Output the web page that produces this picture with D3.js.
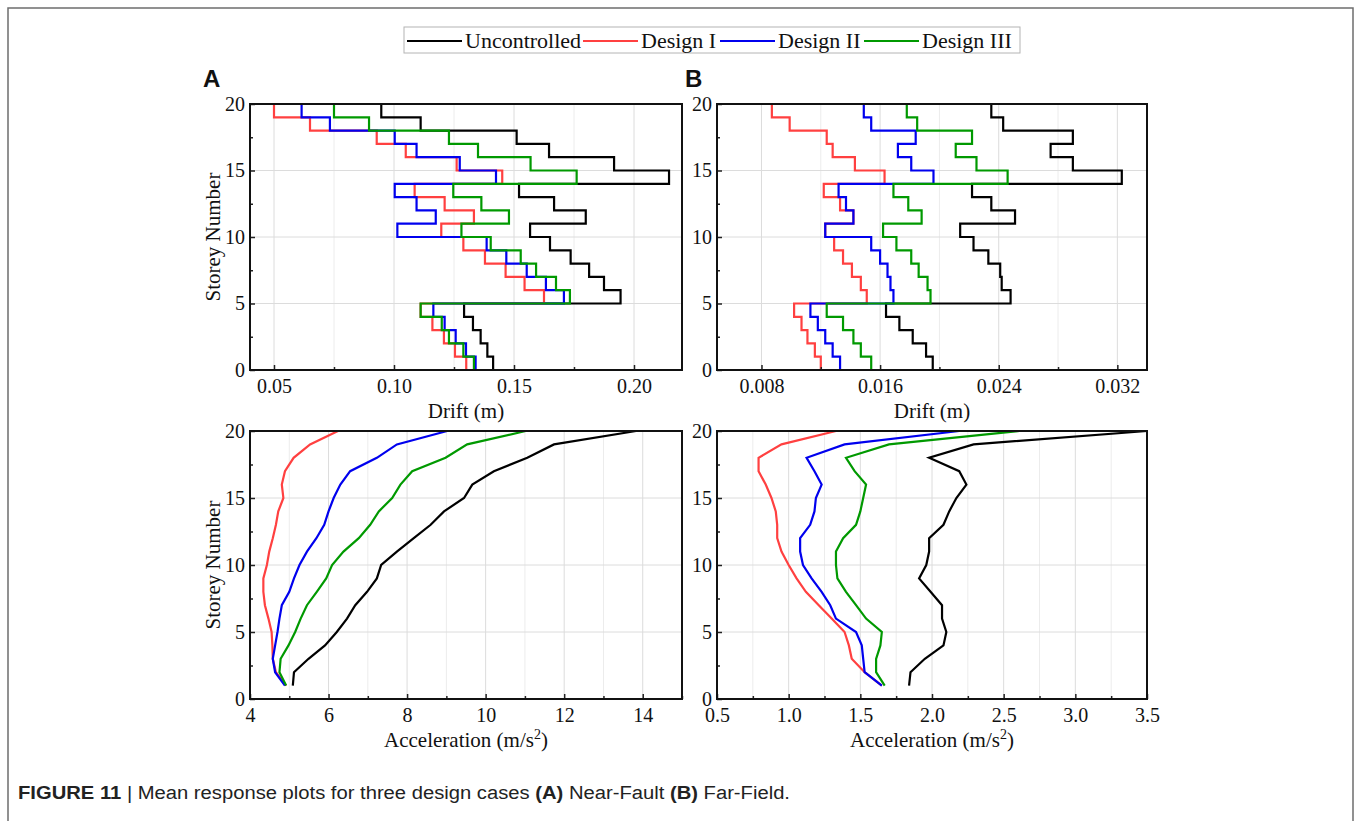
<!DOCTYPE html>
<html lang="en">
<head>
  <meta charset="utf-8">
  <title>Mean response plots</title>
  <script src="https://d3js.org/d3.v7.min.js"></script>
  <style>
    body { margin: 0; background: #fff; }
    .tick-label { font: 20px "Liberation Serif", "Times New Roman", serif; fill: #111; }
    .axis-title { font: 21px "Liberation Serif", "Times New Roman", serif; fill: #111; }
    .legend text { font: 22px "Liberation Serif", "Times New Roman", serif; fill: #111; }
    .panel-tag { font: bold 24px "Liberation Sans", Arial, sans-serif; fill: #111; }
    .caption { font: 18px "Liberation Sans", Arial, sans-serif; fill: #222; }
  </style>
</head>
<body>
<div id="chart"></div>
<script>
"use strict"

// storey numbers
const storeys = d3.range(0, 21);          // 0..20 (step edges)
const floors = d3.range(1, 21);           // 1..20 (acceleration points)

const seriesNames = ["Uncontrolled", "Design I", "Design II", "Design III"];
const seriesColors = ["#000000", "#ff4040", "#0000ee", "#009900"];

// drift (m), one value per storey interval 0-1 ... 19-20  -- (A) Near-Fault
const driftNearUncontrolled = [0.1413, 0.1389, 0.1361, 0.1329, 0.1292, 0.1944, 0.1875, 0.1813, 0.1736, 0.1650,
  0.1567, 0.1799, 0.1667, 0.1521, 0.2146, 0.1917, 0.1646, 0.1511, 0.1111, 0.0947];
const driftNearDesign1 = [0.1301, 0.1254, 0.1208, 0.1160, 0.1111, 0.1625, 0.1544, 0.1465, 0.1379, 0.1289,
  0.1197, 0.1333, 0.1211, 0.1086, 0.1451, 0.1261, 0.1049, 0.0928, 0.0650, 0.0500];
const driftNearDesign2 = [0.1340, 0.1300, 0.1257, 0.1211, 0.1164, 0.1708, 0.1633, 0.1553, 0.1468, 0.1386,
  0.1014, 0.1174, 0.1094, 0.1003, 0.1425, 0.1274, 0.1094, 0.1003, 0.0733, 0.0615];
const driftNearDesign3 = [0.1333, 0.1289, 0.1229, 0.1199, 0.1111, 0.1733, 0.1675, 0.1592, 0.1528, 0.1403,
  0.1281, 0.1479, 0.1364, 0.1247, 0.1761, 0.1569, 0.1350, 0.1229, 0.0896, 0.0750];

// drift (m) -- (B) Far-Field
const driftFarUncontrolled = [0.01955, 0.0191, 0.0182, 0.0173, 0.0164, 0.0248, 0.0242, 0.0241, 0.0233, 0.0223,
  0.0214, 0.0251, 0.0235, 0.0222, 0.0323, 0.0290, 0.0275, 0.0290, 0.0243, 0.0235];
const driftFarDesign1 = [0.0120, 0.0116, 0.0111, 0.0107, 0.0102, 0.0151, 0.0147, 0.0141, 0.0135, 0.0129,
  0.0123, 0.0142, 0.0133, 0.0122, 0.0163, 0.0143, 0.0128, 0.0124, 0.0099, 0.0087];
const driftFarDesign2 = [0.0133, 0.0128, 0.0123, 0.0118, 0.0113, 0.0169, 0.0167, 0.0165, 0.0160, 0.0154,
  0.0123, 0.0142, 0.0137, 0.0132, 0.0196, 0.0181, 0.0172, 0.0184, 0.0154, 0.0149];
const driftFarDesign3 = [0.0154, 0.0147, 0.0142, 0.0135, 0.0124, 0.0194, 0.0192, 0.0186, 0.0181, 0.0171,
  0.0162, 0.0188, 0.0179, 0.0169, 0.0246, 0.0225, 0.0211, 0.0222, 0.0185, 0.0178];

// acceleration (m/s2), floors 1..20 -- (A) Near-Fault
const accNearUncontrolled = [5.09, 5.12, 5.49, 5.91, 6.21, 6.47, 6.68, 6.98, 7.23, 7.34,
  7.74, 8.17, 8.60, 8.94, 9.45, 9.66, 10.21, 11.06, 11.74, 13.83];
const accNearDesign1 = [4.92, 4.66, 4.58, 4.57, 4.55, 4.47, 4.38, 4.34, 4.34, 4.43,
  4.49, 4.58, 4.66, 4.72, 4.85, 4.81, 4.89, 5.11, 5.53, 6.24];
const accNearDesign2 = [4.89, 4.64, 4.58, 4.64, 4.70, 4.75, 4.81, 5.00, 5.12, 5.26,
  5.45, 5.69, 5.89, 6.00, 6.13, 6.30, 6.55, 7.23, 7.74, 9.02];
const accNearDesign3 = [4.92, 4.75, 4.78, 4.98, 5.15, 5.29, 5.45, 5.70, 5.94, 6.09,
  6.38, 6.77, 7.06, 7.28, 7.62, 7.83, 8.13, 8.98, 9.53, 11.02];

// acceleration (m/s2) -- (B) Far-Field
const accFarUncontrolled = [1.84, 1.85, 1.95, 2.08, 2.10, 2.07, 2.07, 1.99, 1.91, 1.96,
  1.98, 1.98, 2.08, 2.12, 2.17, 2.24, 2.19, 1.98, 2.29, 3.50];
const accFarDesign1 = [1.65, 1.53, 1.44, 1.42, 1.39, 1.30, 1.21, 1.12, 1.055, 1.00,
  0.95, 0.92, 0.92, 0.91, 0.88, 0.84, 0.79, 0.79, 0.95, 1.33];
const accFarDesign2 = [1.65, 1.53, 1.52, 1.51, 1.47, 1.33, 1.29, 1.23, 1.16, 1.10,
  1.08, 1.08, 1.15, 1.18, 1.19, 1.23, 1.18, 1.125, 1.39, 2.19];
const accFarDesign3 = [1.67, 1.61, 1.61, 1.64, 1.65, 1.54, 1.47, 1.40, 1.34, 1.33,
  1.33, 1.38, 1.47, 1.50, 1.52, 1.54, 1.46, 1.40, 1.70, 2.61];

// ticks
const yTicks = [0, 5, 10, 15, 20];
const driftNearTicks = [0.05, 0.10, 0.15, 0.20];
const driftFarTicks = [0.008, 0.016, 0.024, 0.032];
const accNearTicks = [4, 6, 8, 10, 12, 14];
const accFarTicks = [0.5, 1.0, 1.5, 2.0, 2.5, 3.0, 3.5];

const W = 1356, H = 821;
const svg = d3.select("#chart").append("svg")
  .attr("width", W).attr("height", H)
  .style("font-family", "Liberation Serif, serif");

// outer frame (open at bottom)
svg.append("path")
  .attr("d", "M8,821 L8,8 L1353,8 L1353,821")
  .attr("fill", "none").attr("stroke", "#6e6e6e").attr("stroke-width", 1.5);

function drawPanel(opt) {
  const x = d3.scaleLinear().domain(opt.xDomain).range([opt.left, opt.right]);
  const y = d3.scaleLinear().domain([0, 20]).range([opt.bottom, opt.top]);
  const g = svg.append("g");

  // grid
  const minorX = d3.range(opt.minorStart, opt.xDomain[1] + 1e-9, opt.minorStep)
    .filter(v => !opt.xTicks.some(t => Math.abs(t - v) < 1e-9));
  g.selectAll(".gridmx").data(minorX).enter().append("line")
    .attr("x1", d => x(d)).attr("x2", d => x(d))
    .attr("y1", opt.top).attr("y2", opt.bottom)
    .attr("stroke", "#ececec").attr("stroke-width", 1);
  g.selectAll(".gridx").data(opt.xTicks).enter().append("line")
    .attr("x1", d => x(d)).attr("x2", d => x(d))
    .attr("y1", opt.top).attr("y2", opt.bottom)
    .attr("stroke", "#dcdcdc").attr("stroke-width", 1);
  g.selectAll(".gridy").data(yTicks).enter().append("line")
    .attr("x1", opt.left).attr("x2", opt.right)
    .attr("y1", d => y(d)).attr("y2", d => y(d))
    .attr("stroke", "#dcdcdc").attr("stroke-width", 1);

  // data lines
  const line = d3.line().x(d => x(d[0])).y(d => y(d[1]));
  opt.series.forEach((vals, i) => {
    let pts;
    if (opt.step) {
      pts = [];
      vals.forEach((v, k) => { pts.push([v, storeys[k]], [v, storeys[k + 1]]); });
    } else {
      pts = vals.map((v, k) => [v, floors[k]]);
    }
    g.append("path").datum(pts)
      .attr("d", line)
      .attr("fill", "none")
      .attr("stroke", seriesColors[i])
      .attr("stroke-width", 2.2)
      .attr("stroke-linejoin", "miter");
  });

  // ticks (inward)
  g.append("g").attr("transform", "translate(0," + opt.bottom + ")")
    .call(d3.axisBottom(x).tickValues(minorX).tickSize(-3).tickFormat(""))
    .call(a => a.select(".domain").remove());
  g.append("g").attr("transform", "translate(0," + opt.bottom + ")")
    .call(d3.axisBottom(x).tickValues(opt.xTicks).tickSize(-5).tickFormat(opt.fmt).tickPadding(9))
    .call(a => a.select(".domain").remove())
    .call(a => a.selectAll("text").attr("class", "tick-label").attr("dy", "0.72em"));
  g.append("g").attr("transform", "translate(" + opt.left + ",0)")
    .call(d3.axisLeft(y).tickValues([2.5, 7.5, 12.5, 17.5]).tickSize(-3).tickFormat(""))
    .call(a => a.select(".domain").remove());
  g.append("g").attr("transform", "translate(" + opt.left + ",0)")
    .call(d3.axisLeft(y).tickValues(yTicks).tickSize(-5).tickPadding(5))
    .call(a => a.select(".domain").remove())
    .call(a => a.selectAll("text").attr("class", "tick-label"));
  g.selectAll(".tick line").attr("stroke", "#222").attr("stroke-width", 1.5);

  // frame
  g.append("rect")
    .attr("x", opt.left).attr("y", opt.top)
    .attr("width", opt.right - opt.left).attr("height", opt.bottom - opt.top)
    .attr("fill", "none").attr("stroke", "#111").attr("stroke-width", 2);

  // titles
  const xt = g.append("text").attr("class", "axis-title")
    .attr("x", (opt.left + opt.right) / 2).attr("y", opt.bottom + 48)
    .attr("text-anchor", "middle");
  if (opt.sup) {
    xt.append("tspan").text(opt.xTitle);
    xt.append("tspan").attr("font-size", "14px").attr("dy", "-8").text("2");
    xt.append("tspan").attr("dy", "8").text(")");
  } else {
    xt.text(opt.xTitle);
  }
  if (opt.yTitle) {
    g.append("text").attr("class", "axis-title")
      .attr("transform", "translate(220," + (opt.top + opt.bottom) / 2 + ") rotate(-90)")
      .attr("text-anchor", "middle")
      .text("Storey Number");
  }
}

const colA = { left: 250, right: 682 }, colB = { left: 717, right: 1147 };
const rowTop = { top: 104, bottom: 370 }, rowBot = { top: 431, bottom: 699 };

drawPanel(Object.assign({}, colA, rowTop, {
  xDomain: [0.04, 0.22], xTicks: driftNearTicks, minorStart: 0.05, minorStep: 0.025, fmt: d3.format(".2f"),
  step: true, series: [driftNearUncontrolled, driftNearDesign1, driftNearDesign2, driftNearDesign3],
  xTitle: "Drift (m)", yTitle: true
}));
drawPanel(Object.assign({}, colB, rowTop, {
  xDomain: [0.005, 0.034], xTicks: driftFarTicks, minorStart: 0.008, minorStep: 0.004, fmt: d3.format(".3f"),
  step: true, series: [driftFarUncontrolled, driftFarDesign1, driftFarDesign2, driftFarDesign3],
  xTitle: "Drift (m)", yTitle: false
}));
drawPanel(Object.assign({}, colA, rowBot, {
  xDomain: [4, 15], xTicks: accNearTicks, minorStart: 4, minorStep: 1, fmt: d3.format("d"),
  step: false, series: [accNearUncontrolled, accNearDesign1, accNearDesign2, accNearDesign3],
  xTitle: "Acceleration (m/s", sup: true, yTitle: true
}));
drawPanel(Object.assign({}, colB, rowBot, {
  xDomain: [0.5, 3.5], xTicks: accFarTicks, minorStart: 0.5, minorStep: 0.25, fmt: d3.format(".1f"),
  step: false, series: [accFarUncontrolled, accFarDesign1, accFarDesign2, accFarDesign3],
  xTitle: "Acceleration (m/s", sup: true, yTitle: false
}));

// panel tags
svg.append("text").attr("class", "panel-tag").attr("x", 203).attr("y", 87).text("A");
svg.append("text").attr("class", "panel-tag").attr("x", 685).attr("y", 87).text("B");

// legend
const legend = svg.append("g").attr("class", "legend");
legend.append("rect").attr("x", 404).attr("y", 27).attr("width", 616).attr("height", 26)
  .attr("fill", "#fff").attr("stroke", "#b4b4b4").attr("stroke-width", 1);
const legendX = [407, 583, 720, 864];
seriesNames.forEach((name, i) => {
  legend.append("line")
    .attr("x1", legendX[i]).attr("x2", legendX[i] + 55)
    .attr("y1", 41).attr("y2", 41)
    .attr("stroke", seriesColors[i]).attr("stroke-width", 2);
  legend.append("text").attr("x", legendX[i] + 58).attr("y", 48).text(name);
});

// caption
const cap = svg.append("text").attr("class", "caption").attr("x", 18).attr("y", 799)
  .attr("textLength", 772).attr("lengthAdjust", "spacingAndGlyphs");
cap.append("tspan").attr("font-weight", "bold").text("FIGURE 11");
cap.append("tspan").text(" | Mean response plots for three design cases ");
cap.append("tspan").attr("font-weight", "bold").text("(A)");
cap.append("tspan").text(" Near-Fault ");
cap.append("tspan").attr("font-weight", "bold").text("(B)");
cap.append("tspan").text(" Far-Field.");
</script>
</body>
</html>
